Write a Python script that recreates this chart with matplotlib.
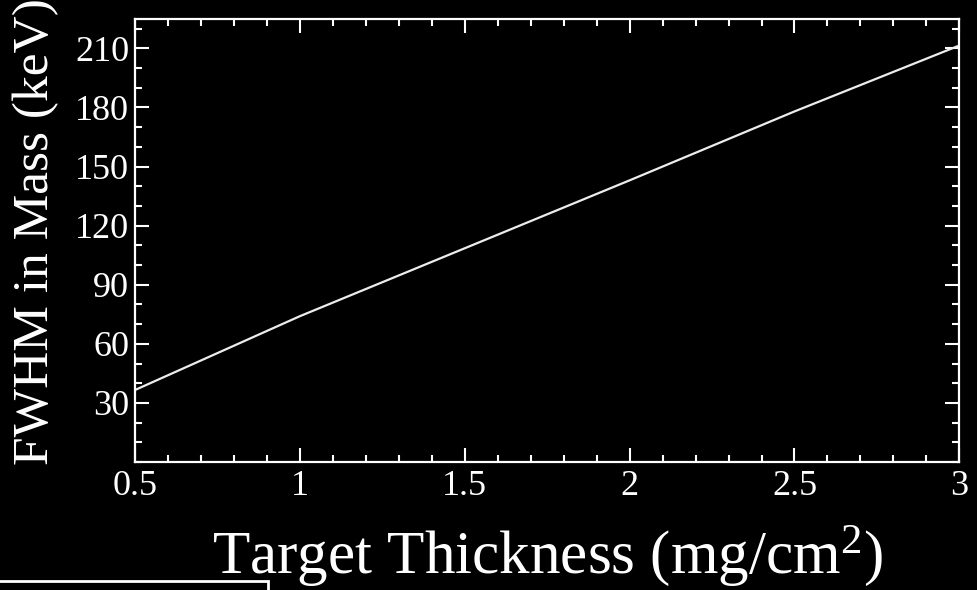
import matplotlib
matplotlib.use("Agg")
import matplotlib.pyplot as plt
from matplotlib.patches import Rectangle
from matplotlib.ticker import MultipleLocator

plt.rcParams.update({"font.family": "Liberation Serif", "mathtext.fontset": "custom",
                     "mathtext.rm": "Liberation Serif", "mathtext.it": "Liberation Serif:italic",
                     "text.color": "white", "axes.edgecolor": "white",
                     "xtick.color": "white", "ytick.color": "white",
                     "axes.labelcolor": "white"})

# FWHM vs target thickness
thickness = [0.5, 1.0, 1.5, 2.0, 2.5, 3.0]
fwhm = [36.5, 74.0, 108.5, 143.0, 178.0, 211.5]

fig = plt.figure(figsize=(9.77, 5.90), dpi=100, facecolor="black")
ax = fig.add_axes([0.138, 0.217, 0.844, 0.751], facecolor="black")
ax.plot(thickness, fwhm, color="#ececec", lw=1.6)

ax.set_xlim(0.5, 3)
ax.set_ylim(0, 225)
ax.xaxis.set_major_locator(MultipleLocator(0.5))
ax.xaxis.set_minor_locator(MultipleLocator(0.1))
ax.yaxis.set_major_locator(MultipleLocator(30))
ax.yaxis.set_minor_locator(MultipleLocator(10))
ax.set_xticks([0.5, 1, 1.5, 2, 2.5, 3], ["0.5", "1", "1.5", "2", "2.5", "3"])
ax.set_yticks([30, 60, 90, 120, 150, 180, 210])
ax.tick_params(which="both", direction="in", top=True, right=True, width=1.5, labelsize=26)
ax.tick_params(which="major", length=10, pad=6)
ax.tick_params(which="minor", length=5)
ax.tick_params(axis="y", pad=4)
for s in ax.spines.values():
    s.set_linewidth(1.6)

ax.set_xlabel("Target Thickness (mg/cm$^{2}$)", fontsize=44, va="baseline")
ax.xaxis.set_label_coords(0.5, -0.25)
ax.set_ylabel("FWHM in Mass (keV)", fontsize=37, va="center")
ax.yaxis.set_label_coords(-0.12, 0.52)

# box outline in the lower left corner
fig.patches.append(Rectangle((-0.01, -0.1), 0.284, 0.115, transform=fig.transFigure,
                             fill=False, edgecolor="white", lw=2, figure=fig))

fig.savefig("out.png", dpi=100, facecolor="black")
